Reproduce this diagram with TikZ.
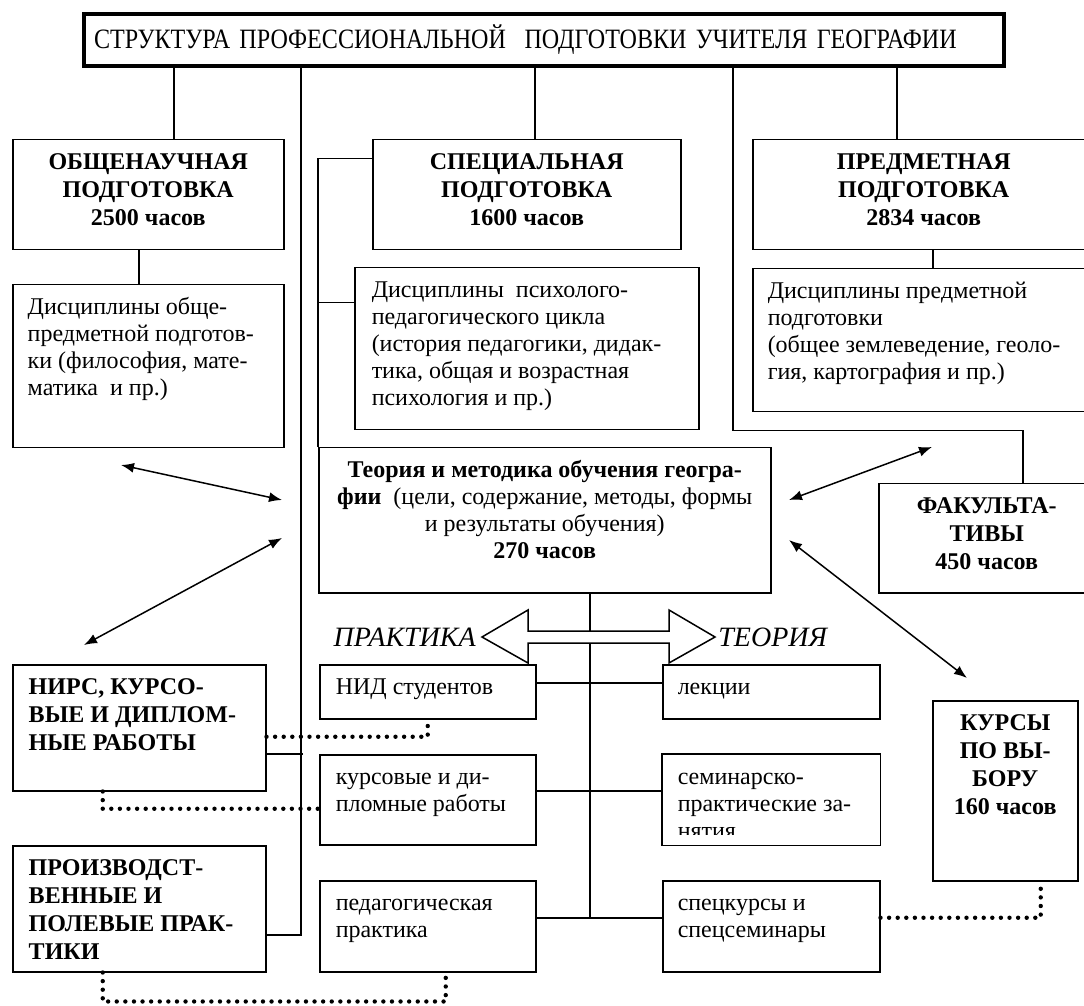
\documentclass[tikz,border=0pt]{standalone}
\usepackage{fontspec}
\setmainfont{Liberation Serif}
\newfontfamily\titlefont[FakeStretch=0.86]{Liberation Serif}
\usetikzlibrary{arrows.meta}

% width, height, alignment, text (top aligned)
\newcommand{\boxtext}[4]{\parbox[c][#2][t]{#1}{#3\rule{0pt}{15pt}#4}}

\begin{document}
\begin{tikzpicture}[x=0.5pt, y=-0.5pt,
  font=\fontsize{12}{13.5}\selectfont,
  blk/.style={draw, line width=0.75pt, inner sep=0pt, anchor=north west},
  head/.style={font=\bfseries\fontsize{12}{14}\selectfont},
  link/.style={line width=0.75pt},
  dots/.style={line width=2.2pt, line cap=round, dash pattern=on 0pt off 4.3pt},
  >={Latex[length=6.5pt,width=5pt]}]
  \useasboundingbox (0,0) rectangle (1084,1006);

  % Title
  \node[draw, line width=2pt, minimum width=460pt, minimum height=26pt, inner xsep=5pt,
    text width=450pt, align=left, font=\titlefont\fontsize{14}{16}\selectfont] (title) at (544,40)
    {СТРУКТУРА ПРОФЕССИОНАЛЬНОЙ\ \ ПОДГОТОВКИ УЧИТЕЛЯ ГЕОГРАФИИ};
  \coordinate (t1) at (174,0);
  \coordinate (t2) at (301,0);
  \coordinate (t3) at (535,0);
  \coordinate (t4) at (733,0);
  \coordinate (t5) at (897,0);

  % First row
  \node[blk, head] (obsh) at (12,139) {\boxtext{135.5pt}{55pt}{\centering}{ОБЩЕНАУЧНАЯ\\ПОДГОТОВКА\\2500 часов}};
  \node[blk, head] (spec) at (372,139) {\boxtext{154pt}{55pt}{\centering}{СПЕЦИАЛЬНАЯ\\ПОДГОТОВКА\\1600 часов}};
  \node[blk, head] (predm) at (752,139) {\boxtext{171pt}{55pt}{\centering}{ПРЕДМЕТНАЯ\\ПОДГОТОВКА\\2834 часов}};

  % Disciplines
  \node[blk] (dobsh) at (12,284) {\boxtext{135.5pt}{81.5pt}{\raggedright\leftskip=7.5pt\relax}{Дисциплины обще-\\предметной подготов-\\ки (философия, мате-\\матика\ \ и пр.)}};
  \node[blk] (dpsy) at (354,267) {\boxtext{172pt}{81pt}{\raggedright\leftskip=8.5pt\relax}{Дисциплины\ \ психолого-\\педагогического цикла\\(история педагогики, дидак-\\тика, общая и возрастная\\психология и пр.)}};
  \node[blk] (dpredm) at (752,268) {\boxtext{171pt}{71.5pt}{\raggedright\leftskip=7.5pt\relax}{Дисциплины предметной\\подготовки\\(общее землеведение, геоло-\\гия, картография и пр.)}};

  % Middle
  \node[blk] (teor) at (318,447) {\boxtext{226pt}{72.5pt}{\centering}{\textbf{Теория и методика обучения геогра-}\\\textbf{фии}\ \ (цели, содержание, методы, формы\\и результаты обучения)\\\textbf{270 часов}}};
  \node[blk, head] (fakult) at (878,483) {\boxtext{108pt}{54.5pt}{\centering}{ФАКУЛЬТА-\\ТИВЫ\\450 часов}};

  % Left column
  \node[blk, head] (nirs) at (12,664) {\boxtext{126.5pt}{63pt}{\raggedright\leftskip=8pt\relax}{НИРС, КУРСО-\\ВЫЕ И ДИПЛОМ-\\НЫЕ РАБОТЫ}};
  \node[blk, head] (proizv) at (12,845) {\boxtext{126.5pt}{63pt}{\raggedright\leftskip=8pt\relax}{ПРОИЗВОДСТ-\\ВЕННЫЕ И\\ПОЛЕВЫЕ ПРАК-\\ТИКИ}};

  % Practice column
  \node[blk] (nid) at (319,664) {\boxtext{108pt}{27pt}{\raggedright\leftskip=8pt\relax}{НИД студентов}};
  \node[blk] (kurs) at (319,754) {\boxtext{108pt}{45pt}{\raggedright\leftskip=8pt\relax}{курсовые и ди-\\пломные работы}};
  \node[blk] (pedag) at (319,880) {\boxtext{108pt}{45.5pt}{\raggedright\leftskip=8pt\relax}{педагогическая\\практика}};

  % Theory column
  \node[blk] (lekc) at (662,664) {\boxtext{108.5pt}{27pt}{\raggedright\leftskip=7.5pt\relax}{лекции}};
  \begin{scope}
    \clip (662,754) rectangle (879,834);
    \node[blk, draw=none] (semin) at (662,754) {\boxtext{108.5pt}{45pt}{\raggedright\leftskip=7.5pt\relax}{семинарско-\\практические за-\\нятия}};
  \end{scope}
  \draw[link] (semin.north west) rectangle (semin.south east);
  \node[blk] (speck) at (662,880) {\boxtext{108.5pt}{45.5pt}{\raggedright\leftskip=7.5pt\relax}{спецкурсы и\\спецсеминары}};

  \node[blk, head] (kursy) at (932,700) {\boxtext{72.5pt}{90pt}{\centering}{КУРСЫ\\ПО ВЫ-\\БОРУ\\160 часов}};

  % Lines from title
  \draw[link] (title.south -| t1) -- (obsh.north -| t1);
  \draw[link] (title.south -| t3) -- (spec.north -| t3);
  \draw[link] (title.south -| t5) -- (predm.north -| t5);
  \draw[link] (title.south -| t2) |- ([yshift=-13pt]proizv.east);
  \draw[link] ([yshift=-13pt]nirs.east) -- +(18pt,0);
  \draw[link] (title.south -| t4) -- (dpsy.south -| t4) -| ([xshift=18pt]fakult.north);

  % Blocks
  \draw[link] ([xshift=-4.75pt]obsh.south) -- ([xshift=-4.75pt]dobsh.north);
  \draw[link] ([xshift=4.5pt]predm.south) -- ([xshift=4.5pt]dpredm.north);
  \draw[link] ([yshift=18pt]spec.west) -| (teor.north west);
  \draw[link] ([yshift=23pt]dpsy.west) -- +(-18pt,0);

  % Spine
  \coordinate (sp) at ([xshift=22.5pt]teor.south);
  \coordinate (sb) at ([yshift=4.25pt]speck.west);
  \draw[link] (sp) -- (sp |- sb);
  \draw[link] ([yshift=4.5pt]nid.east) -- ([yshift=4.5pt]lekc.west);
  \draw[link] ([yshift=4.5pt]kurs.east) -- ([yshift=4.5pt]semin.west);
  \draw[link] ([yshift=4.25pt]pedag.east) -- (sb);

  % Double arrow
  \draw[link, fill=white] (482,637) -- (528,610) -- (528,631) -- (669,631) -- (669,610) -- (715,637)
    -- (669,663) -- (669,643) -- (528,643) -- (528,663) -- cycle;
  \node[anchor=east, inner xsep=3pt, font=\itshape\fontsize{14}{16}\selectfont] (prak) at (482,637) {ПРАКТИКА};
  \node[anchor=west, inner xsep=1.5pt, font=\itshape\fontsize{14}{16}\selectfont] (teo) at (715,637) {ТЕОРИЯ};

  % Arrows
  \coordinate (a1) at (121,465);
  \coordinate (a2) at (282,500);
  \coordinate (a3) at (282,538);
  \coordinate (a4) at (84,645);
  \coordinate (a5) at (789,500);
  \coordinate (a6) at (932,447);
  \coordinate (a7) at (789,540);
  \coordinate (a8) at (967,678);
  \draw[link, <->] (a1) -- (a2);
  \draw[link, <->] (a3) -- (a4);
  \draw[link, <->] (a5) -- (a6);
  \draw[link, <->] (a7) -- (a8);

  % Dotted links
  \draw[dots] ([yshift=-4.5pt]nirs.east) -| (nid.south);
  \draw[dots] ([xshift=-18.25pt]nirs.south) |- ([yshift=-4.5pt]kurs.west);
  \draw[dots] ([xshift=-18.25pt]proizv.south) -- ++(0,-14.5pt) -| ([xshift=9pt]pedag.south);
  \draw[dots] ([yshift=4.25pt]speck.east) -| ([xshift=17.75pt]kursy.south);
\end{tikzpicture}
\end{document}
